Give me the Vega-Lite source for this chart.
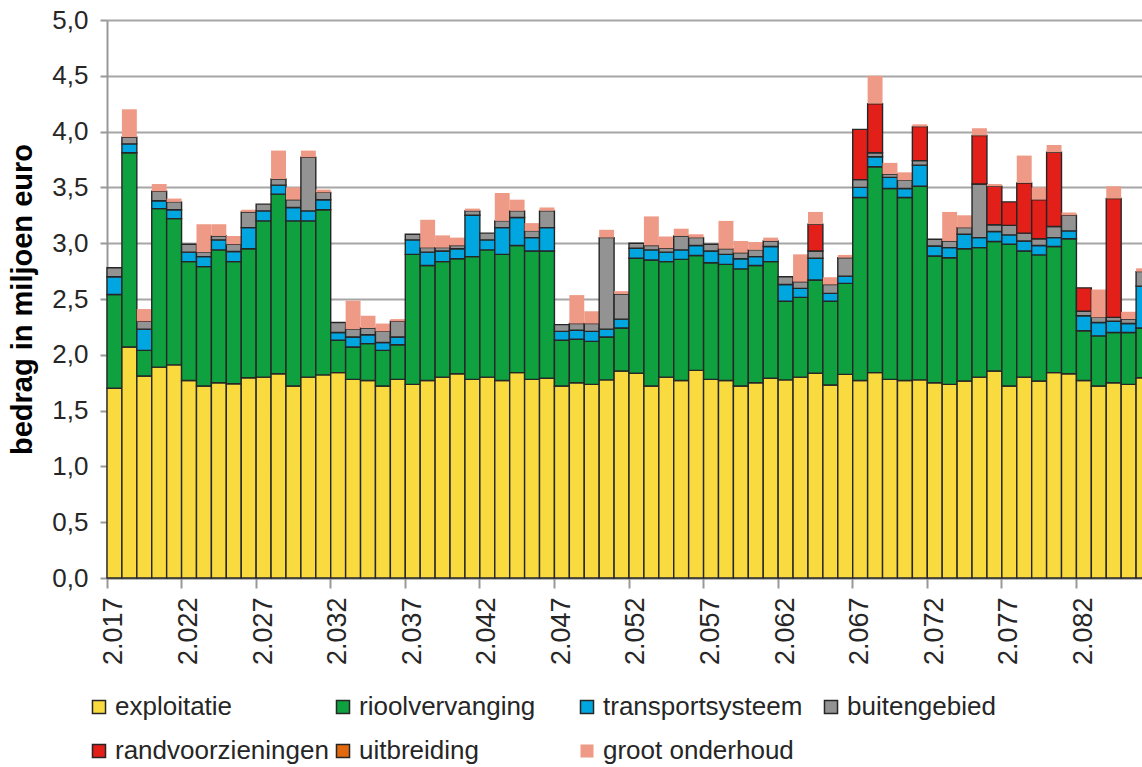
{
  "$schema": "https://vega.github.io/schema/vega-lite/v6.json",
  "autosize": "none",
  "padding": {"left": 107, "top": 20, "right": 0, "bottom": 189},
  "width": 1044,
  "height": 558,
  "background": "white",
  "config": {"font": "Liberation Sans", "view": {"stroke": null}},
  "data": {"values": [
    {"year":2017,"exploitatie":1.70,"rioolvervanging":0.84,"transportsysteem":0.16,"buitengebied":0.08},
    {"year":2018,"exploitatie":2.07,"rioolvervanging":1.74,"transportsysteem":0.08,"buitengebied":0.06,"groot onderhoud":0.25},
    {"year":2019,"exploitatie":1.81,"rioolvervanging":0.23,"transportsysteem":0.19,"buitengebied":0.07,"groot onderhoud":0.11},
    {"year":2020,"exploitatie":1.89,"rioolvervanging":1.42,"transportsysteem":0.07,"buitengebied":0.085,"groot onderhoud":0.065},
    {"year":2021,"exploitatie":1.91,"rioolvervanging":1.31,"transportsysteem":0.08,"buitengebied":0.07,"groot onderhoud":0.03},
    {"year":2022,"exploitatie":1.77,"rioolvervanging":1.065,"transportsysteem":0.085,"buitengebied":0.07},
    {"year":2023,"exploitatie":1.72,"rioolvervanging":1.07,"transportsysteem":0.09,"buitengebied":0.04,"groot onderhoud":0.25},
    {"year":2024,"exploitatie":1.75,"rioolvervanging":1.19,"transportsysteem":0.09,"buitengebied":0.035,"groot onderhoud":0.105},
    {"year":2025,"exploitatie":1.74,"rioolvervanging":1.095,"transportsysteem":0.09,"buitengebied":0.065,"groot onderhoud":0.075},
    {"year":2026,"exploitatie":1.795,"rioolvervanging":1.155,"transportsysteem":0.19,"buitengebied":0.14,"groot onderhoud":0.02},
    {"year":2027,"exploitatie":1.80,"rioolvervanging":1.40,"transportsysteem":0.09,"buitengebied":0.06},
    {"year":2028,"exploitatie":1.83,"rioolvervanging":1.61,"transportsysteem":0.08,"buitengebied":0.055,"groot onderhoud":0.255},
    {"year":2029,"exploitatie":1.72,"rioolvervanging":1.48,"transportsysteem":0.12,"buitengebied":0.07,"groot onderhoud":0.11},
    {"year":2030,"exploitatie":1.80,"rioolvervanging":1.40,"transportsysteem":0.09,"buitengebied":0.48,"groot onderhoud":0.06},
    {"year":2031,"exploitatie":1.82,"rioolvervanging":1.48,"transportsysteem":0.09,"buitengebied":0.065,"groot onderhoud":0.025},
    {"year":2032,"exploitatie":1.84,"rioolvervanging":0.29,"transportsysteem":0.07,"buitengebied":0.09},
    {"year":2033,"exploitatie":1.78,"rioolvervanging":0.29,"transportsysteem":0.09,"buitengebied":0.07,"groot onderhoud":0.255},
    {"year":2034,"exploitatie":1.77,"rioolvervanging":0.33,"transportsysteem":0.08,"buitengebied":0.06,"groot onderhoud":0.11},
    {"year":2035,"exploitatie":1.72,"rioolvervanging":0.32,"transportsysteem":0.07,"buitengebied":0.10,"groot onderhoud":0.07},
    {"year":2036,"exploitatie":1.78,"rioolvervanging":0.31,"transportsysteem":0.07,"buitengebied":0.14,"groot onderhoud":0.02},
    {"year":2037,"exploitatie":1.735,"rioolvervanging":1.165,"transportsysteem":0.13,"buitengebied":0.05},
    {"year":2038,"exploitatie":1.77,"rioolvervanging":1.03,"transportsysteem":0.12,"buitengebied":0.04,"groot onderhoud":0.25},
    {"year":2039,"exploitatie":1.80,"rioolvervanging":1.035,"transportsysteem":0.095,"buitengebied":0.03,"groot onderhoud":0.11},
    {"year":2040,"exploitatie":1.83,"rioolvervanging":1.03,"transportsysteem":0.09,"buitengebied":0.03,"groot onderhoud":0.07},
    {"year":2041,"exploitatie":1.78,"rioolvervanging":1.10,"transportsysteem":0.37,"buitengebied":0.04,"groot onderhoud":0.02},
    {"year":2042,"exploitatie":1.80,"rioolvervanging":1.14,"transportsysteem":0.09,"buitengebied":0.06},
    {"year":2043,"exploitatie":1.77,"rioolvervanging":1.13,"transportsysteem":0.24,"buitengebied":0.06,"groot onderhoud":0.25},
    {"year":2044,"exploitatie":1.84,"rioolvervanging":1.14,"transportsysteem":0.25,"buitengebied":0.06,"groot onderhoud":0.10},
    {"year":2045,"exploitatie":1.78,"rioolvervanging":1.15,"transportsysteem":0.12,"buitengebied":0.06,"groot onderhoud":0.07},
    {"year":2046,"exploitatie":1.79,"rioolvervanging":1.14,"transportsysteem":0.21,"buitengebied":0.15,"groot onderhoud":0.03},
    {"year":2047,"exploitatie":1.72,"rioolvervanging":0.41,"transportsysteem":0.08,"buitengebied":0.06},
    {"year":2048,"exploitatie":1.75,"rioolvervanging":0.39,"transportsysteem":0.08,"buitengebied":0.06,"groot onderhoud":0.255},
    {"year":2049,"exploitatie":1.735,"rioolvervanging":0.385,"transportsysteem":0.09,"buitengebied":0.07,"groot onderhoud":0.11},
    {"year":2050,"exploitatie":1.775,"rioolvervanging":0.385,"transportsysteem":0.07,"buitengebied":0.82,"groot onderhoud":0.07},
    {"year":2051,"exploitatie":1.855,"rioolvervanging":0.385,"transportsysteem":0.08,"buitengebied":0.225,"groot onderhoud":0.025},
    {"year":2052,"exploitatie":1.835,"rioolvervanging":1.03,"transportsysteem":0.09,"buitengebied":0.045},
    {"year":2053,"exploitatie":1.72,"rioolvervanging":1.13,"transportsysteem":0.09,"buitengebied":0.04,"groot onderhoud":0.26},
    {"year":2054,"exploitatie":1.80,"rioolvervanging":1.035,"transportsysteem":0.085,"buitengebied":0.035,"groot onderhoud":0.105},
    {"year":2055,"exploitatie":1.77,"rioolvervanging":1.085,"transportsysteem":0.085,"buitengebied":0.125,"groot onderhoud":0.065},
    {"year":2056,"exploitatie":1.86,"rioolvervanging":1.03,"transportsysteem":0.09,"buitengebied":0.07,"groot onderhoud":0.03},
    {"year":2057,"exploitatie":1.78,"rioolvervanging":1.045,"transportsysteem":0.105,"buitengebied":0.06},
    {"year":2058,"exploitatie":1.77,"rioolvervanging":1.04,"transportsysteem":0.09,"buitengebied":0.05,"groot onderhoud":0.25},
    {"year":2059,"exploitatie":1.72,"rioolvervanging":1.05,"transportsysteem":0.09,"buitengebied":0.055,"groot onderhoud":0.105},
    {"year":2060,"exploitatie":1.75,"rioolvervanging":1.05,"transportsysteem":0.08,"buitengebied":0.06,"groot onderhoud":0.07},
    {"year":2061,"exploitatie":1.79,"rioolvervanging":1.045,"transportsysteem":0.135,"buitengebied":0.05,"groot onderhoud":0.03},
    {"year":2062,"exploitatie":1.775,"rioolvervanging":0.705,"transportsysteem":0.15,"buitengebied":0.07},
    {"year":2063,"exploitatie":1.80,"rioolvervanging":0.715,"transportsysteem":0.08,"buitengebied":0.06,"groot onderhoud":0.245},
    {"year":2064,"exploitatie":1.835,"rioolvervanging":0.835,"transportsysteem":0.195,"buitengebied":0.065,"randvoorzieningen":0.24,"groot onderhoud":0.11},
    {"year":2065,"exploitatie":1.73,"rioolvervanging":0.75,"transportsysteem":0.07,"buitengebied":0.08,"groot onderhoud":0.065},
    {"year":2066,"exploitatie":1.825,"rioolvervanging":0.815,"transportsysteem":0.065,"buitengebied":0.165,"groot onderhoud":0.025},
    {"year":2067,"exploitatie":1.77,"rioolvervanging":1.64,"transportsysteem":0.09,"buitengebied":0.07,"randvoorzieningen":0.45},
    {"year":2068,"exploitatie":1.84,"rioolvervanging":1.845,"transportsysteem":0.09,"buitengebied":0.035,"randvoorzieningen":0.44,"groot onderhoud":0.25},
    {"year":2069,"exploitatie":1.78,"rioolvervanging":1.71,"transportsysteem":0.10,"buitengebied":0.03,"groot onderhoud":0.10},
    {"year":2070,"exploitatie":1.77,"rioolvervanging":1.64,"transportsysteem":0.08,"buitengebied":0.075,"groot onderhoud":0.07},
    {"year":2071,"exploitatie":1.775,"rioolvervanging":1.735,"transportsysteem":0.19,"buitengebied":0.04,"randvoorzieningen":0.305,"groot onderhoud":0.02},
    {"year":2072,"exploitatie":1.75,"rioolvervanging":1.135,"transportsysteem":0.09,"buitengebied":0.06},
    {"year":2073,"exploitatie":1.735,"rioolvervanging":1.135,"transportsysteem":0.09,"buitengebied":0.06,"groot onderhoud":0.26},
    {"year":2074,"exploitatie":1.765,"rioolvervanging":1.185,"transportsysteem":0.13,"buitengebied":0.06,"groot onderhoud":0.11},
    {"year":2075,"exploitatie":1.80,"rioolvervanging":1.16,"transportsysteem":0.09,"buitengebied":0.48,"randvoorzieningen":0.435,"groot onderhoud":0.065},
    {"year":2076,"exploitatie":1.855,"rioolvervanging":1.16,"transportsysteem":0.09,"buitengebied":0.06,"randvoorzieningen":0.345,"groot onderhoud":0.02},
    {"year":2077,"exploitatie":1.72,"rioolvervanging":1.27,"transportsysteem":0.085,"buitengebied":0.085,"randvoorzieningen":0.21},
    {"year":2078,"exploitatie":1.80,"rioolvervanging":1.13,"transportsysteem":0.09,"buitengebied":0.07,"randvoorzieningen":0.45,"groot onderhoud":0.245},
    {"year":2079,"exploitatie":1.765,"rioolvervanging":1.13,"transportsysteem":0.085,"buitengebied":0.06,"randvoorzieningen":0.35,"groot onderhoud":0.11},
    {"year":2080,"exploitatie":1.84,"rioolvervanging":1.13,"transportsysteem":0.08,"buitengebied":0.10,"randvoorzieningen":0.665,"groot onderhoud":0.065},
    {"year":2081,"exploitatie":1.83,"rioolvervanging":1.21,"transportsysteem":0.07,"buitengebied":0.14,"groot onderhoud":0.025},
    {"year":2082,"exploitatie":1.77,"rioolvervanging":0.445,"transportsysteem":0.135,"buitengebied":0.04,"randvoorzieningen":0.21},
    {"year":2083,"exploitatie":1.72,"rioolvervanging":0.45,"transportsysteem":0.12,"buitengebied":0.045,"groot onderhoud":0.25},
    {"year":2084,"exploitatie":1.75,"rioolvervanging":0.45,"transportsysteem":0.10,"buitengebied":0.035,"randvoorzieningen":1.065,"groot onderhoud":0.11},
    {"year":2085,"exploitatie":1.735,"rioolvervanging":0.465,"transportsysteem":0.08,"buitengebied":0.04,"groot onderhoud":0.065},
    {"year":2086,"exploitatie":1.795,"rioolvervanging":0.445,"transportsysteem":0.375,"buitengebied":0.13,"groot onderhoud":0.03}
  ]},
  "transform": [
    {"fold": ["exploitatie","rioolvervanging","transportsysteem","buitengebied","randvoorzieningen","uitbreiding","groot onderhoud"], "as": ["cat","value"]},
    {"window": [{"op": "row_number", "as": "idx"}], "groupby": ["year"]},
    {"filter": "datum.value > 0"}
  ],
  "mark": {"type": "bar", "strokeWidth": 1.4},
  "encoding": {
    "x": {
      "field": "year", "type": "ordinal",
      "scale": {"paddingInner": 0, "paddingOuter": 0},
      "axis": {
        "values": [2017,2022,2027,2032,2037,2042,2047,2052,2057,2062,2067,2072,2077,2082],
        "bandPosition": 0,
        "labelExpr": "replace(format(datum.value, ','), ',', '.')",
        "labelAngle": 270,
        "labelFontSize": 27,
        "labelColor": "#262626",
        "labelPadding": 9,
        "tickSize": 10,
        "tickColor": "#999999",
        "tickWidth": 2,
        "domainColor": "#999999",
        "domainWidth": 2,
        "title": null,
        "grid": false
      }
    },
    "y": {
      "field": "value", "type": "quantitative", "stack": "zero",
      "scale": {"domain": [0, 5]},
      "axis": {
        "values": [0,0.5,1,1.5,2,2.5,3,3.5,4,4.5,5],
        "labelExpr": "replace(format(datum.value, '.1f'), '.', ',')",
        "labelFontSize": 26,
        "labelColor": "#262626",
        "labelPadding": 12,
        "tickSize": 7,
        "tickColor": "#999999",
        "tickWidth": 2,
        "domainColor": "#999999",
        "domainWidth": 2,
        "grid": true,
        "gridColor": "#a6a6a6",
        "gridWidth": 2,
        "title": "bedrag in miljoen euro",
        "titleFontSize": 29,
        "titleFontWeight": "bold",
        "titleColor": "#000000",
        "titleX": -70
      }
    },
    "color": {
      "field": "cat", "type": "nominal",
      "scale": {
        "domain": ["exploitatie","rioolvervanging","transportsysteem","buitengebied","randvoorzieningen","uitbreiding","groot onderhoud"],
        "range": ["#f9db40","#0fa040","#00a6e0","#939393","#e21f18","#e3690f","#ee9a86"]
      },
      "legend": {
        "orient": "none", "legendX": -21, "legendY": 674,
        "direction": "horizontal", "columns": 4, "gridAlign": "all",
        "title": null, "symbolType": "square", "symbolSize": 170,
        "labelFontSize": 26, "labelColor": "#262626", "labelLimit": 400,
        "columnPadding": 1, "rowPadding": 18, "labelOffset": 3,
        "symbolStrokeWidth": 1.5
      }
    },
    "stroke": {
      "field": "cat", "type": "nominal",
      "scale": {
        "domain": ["exploitatie","rioolvervanging","transportsysteem","buitengebied","randvoorzieningen","uitbreiding","groot onderhoud"],
        "range": ["#262626","#262626","#262626","#262626","#262626","#262626","transparent"]
      },
      "legend": {
        "orient": "none", "legendX": -21, "legendY": 674,
        "direction": "horizontal", "columns": 4, "gridAlign": "all",
        "title": null, "symbolType": "square", "symbolSize": 170,
        "labelFontSize": 26, "labelColor": "#262626", "labelLimit": 400,
        "columnPadding": 1, "rowPadding": 18, "labelOffset": 3,
        "symbolStrokeWidth": 1.5
      }
    },
    "order": {"field": "idx", "type": "quantitative"}
  }
}
